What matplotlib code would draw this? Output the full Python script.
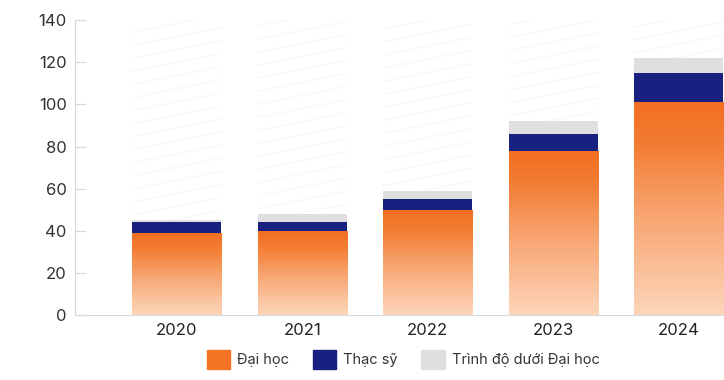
import numpy as np
import matplotlib.pyplot as plt
from matplotlib.colors import LinearSegmentedColormap
from matplotlib.patches import Patch, Rectangle

plt.rcParams['font.family'] = ['Inter', 'DejaVu Sans']

years = ["2020", "2021", "2022", "2023", "2024"]
dai_hoc = [39, 40, 50, 78, 101]
thac_sy = [5, 4, 5, 8, 14]
duoi_dh = [1, 4, 4, 6, 7]
labels = ["Đại học", "Thạc sỹ", "Trình độ dưới Đại học"]

ORANGE = "#f47424"
NAVY = "#18217f"
GREY = "#dfdfdf"
orange_grad = LinearSegmentedColormap.from_list(
    "og", [(0, "#fdd6ba"), (0.45, "#f8a774"), (0.8, "#f37d33"), (1, "#f26e20")])

fig = plt.figure(figsize=(7.24, 3.8), dpi=100)
ax = fig.add_axes([0.1036, 0.171, 0.8964, 0.776])

x = np.arange(len(years))
w = 0.71
ymax = 140

bars = ax.bar(x, dai_hoc, w, color="none", zorder=2)
for b, h in zip(bars, dai_hoc):
    x0 = b.get_x()
    grad = np.linspace(0, 1, 256).reshape(-1, 1)
    im = ax.imshow(grad, cmap=orange_grad, origin="lower", aspect="auto",
                   extent=[x0, x0 + w, 0, h], zorder=2)
    im.set_clip_path(b)

bottom2 = np.array(dai_hoc)
ax.bar(x, thac_sy, w, bottom=bottom2, color=NAVY, zorder=2)
bottom3 = bottom2 + np.array(thac_sy)
ax.bar(x, duoi_dh, w, bottom=bottom3, color=GREY, zorder=2)
totals = bottom3 + np.array(duoi_dh)

# faint diagonal pattern above each bar
for xi, top in zip(x, totals):
    clip = Rectangle((xi - w / 2, top), w, ymax - top, fill=False, lw=0,
                     transform=ax.transData)
    ax.add_patch(clip)
    xs = np.array([xi - w / 2, xi + w / 2])
    for y0 in np.arange(top - 10, ymax + 6, 6.2):
        ln, = ax.plot(xs, [y0, y0 + 8.5], color="#f4f4f4", lw=0.6, zorder=1)
        ln.set_clip_path(clip)

ax.set_xlim(-0.81, 4.36)
ax.set_ylim(0, ymax)
ax.set_yticks(range(0, 141, 20))
ax.set_xticks(x)
ax.set_xticklabels(years)

for s in ["top", "right"]:
    ax.spines[s].set_visible(False)
ax.spines["left"].set_color("#d9d9d9")
ax.spines["bottom"].set_color("#d9d9d9")
ax.tick_params(axis="y", direction="in", length=8, color="#d9d9d9",
               labelsize=12, labelcolor="#333333", pad=6)
ax.tick_params(axis="x", length=0, labelsize=12, labelcolor="#222222", pad=6)

handles = [Patch(color=ORANGE), Patch(color=NAVY), Patch(color=GREY)]
fig.legend(handles, labels, loc="lower center", bbox_to_anchor=(0.557, -0.005),
           ncol=3, frameon=False, fontsize=10.5, handlelength=1.6,
           handleheight=1.6, columnspacing=1.6, handletextpad=0.5,
           labelcolor="#333333")

fig.savefig("out.png", dpi=100)
